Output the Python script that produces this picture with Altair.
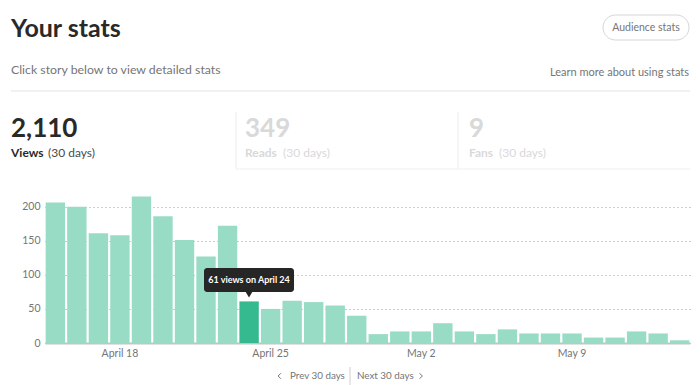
import altair as alt
import pandas as pd

# ---- data ----
days = ["April 15", "April 16", "April 17", "April 18", "April 19", "April 20",
        "April 21", "April 22", "April 23", "April 24", "April 25", "April 26",
        "April 27", "April 28", "April 29", "April 30", "May 1", "May 2",
        "May 3", "May 4", "May 5", "May 6", "May 7", "May 8", "May 9",
        "May 10", "May 11", "May 12", "May 13", "May 14"]
views = [206, 200, 161, 158, 215, 186, 151, 127, 172, 61,
         50, 62, 60, 55, 40, 13, 17, 17, 29, 17,
         13, 20, 14, 14, 14, 8, 8, 17, 14, 4]
tick_days = ["April 18", "April 25", "May 2", "May 9"]
y_ticks = [0, 50, 100, 150, 200]
highlight_day = "April 24"

df = pd.DataFrame({"day": days, "views": views})

FONT = "Lato"
OX, OY = 45, 193  # page position of plot origin


def px(x):
    return x - OX


def py(y):
    return y - OY


one = alt.Data(values=[{"a": 1}])


def text(t, x, y, size=12, color="#292929", weight="normal", align="left",
         baseline="alphabetic", font=FONT):
    return alt.Chart(one).mark_text(
        text=t, fontSize=size, color=color, fontWeight=weight, align=align,
        baseline=baseline, font=font
    ).encode(x=alt.value(px(x)), y=alt.value(py(y)))


def hline(x1, x2, y, color="#e6e6e6", w=1):
    return alt.Chart(one).mark_rule(color=color, strokeWidth=w).encode(
        x=alt.value(px(x1)), x2=alt.value(px(x2)), y=alt.value(py(y)))


def vline(x, y1, y2, color="#ececec", w=1):
    return alt.Chart(one).mark_rule(color=color, strokeWidth=w).encode(
        x=alt.value(px(x)), y=alt.value(py(y1)), y2=alt.value(py(y2)))


bars = alt.Chart(df).mark_bar().encode(
    x=alt.X("day:O", sort=days, title=None,
            scale=alt.Scale(paddingInner=0.1, paddingOuter=0.03),
            axis=alt.Axis(values=tick_days, labelAngle=0, ticks=False,
                          domain=True, domainColor="#c4c4c4", domainWidth=2,
                          labelColor="#757575", labelFontSize=10.5,
                          labelFont=FONT, labelPadding=5, grid=False)),
    y=alt.Y("views:Q", title=None,
            scale=alt.Scale(domain=[0, 220], nice=False),
            axis=alt.Axis(values=y_ticks, ticks=False, domain=False,
                          labelColor="#757575", labelFontSize=10.5,
                          labelFont=FONT, labelPadding=5,
                          grid=True, gridDash=[1, 3], gridColor="#9a9a9a",
                          gridWidth=1)),
    color=alt.condition(alt.datum.day == highlight_day,
                        alt.value("#35b98e"), alt.value("#98dcc6")),
)

# tooltip
tip_box = alt.Chart(one).mark_rect(color="#262626", cornerRadius=3).encode(
    x=alt.value(px(204)), x2=alt.value(px(294)),
    y=alt.value(py(268)), y2=alt.value(py(292)))
tip_arrow = alt.Chart(one).mark_point(
    shape="triangle-down", filled=True, color="#262626", opacity=1, size=70
).encode(x=alt.value(px(249)), y=alt.value(py(294)))
tip_text = text("61 views on April 24", 249, 280, size=9, color="#ffffff",
                weight="bold", align="center", baseline="middle")

# button
button = alt.Chart(one).mark_rect(
    fill="#ffffff", stroke="#d6d6d6", strokeWidth=1, cornerRadius=12.5
).encode(x=alt.value(px(603)), x2=alt.value(px(689)),
         y=alt.value(py(15)), y2=alt.value(py(40)))

chev_left = alt.Chart(one).mark_point(
    shape="M 0.5 -1 L -0.5 0 L 0.5 1", filled=False, color="#757575",
    strokeWidth=1, size=30, opacity=1
).encode(x=alt.value(px(279.5)), y=alt.value(py(376)))
chev_right = alt.Chart(one).mark_point(
    shape="M -0.5 -1 L 0.5 0 L -0.5 1", filled=False, color="#757575",
    strokeWidth=1, size=30, opacity=1
).encode(x=alt.value(px(421)), y=alt.value(py(376)))

LIGHT = "#d9d9d9"
layers = [
    bars,
    text("Your stats", 11, 37, size=25, weight="bold"),
    text("Click story below to view detailed stats", 11, 74, size=12.3,
         color="#757575"),
    text("Learn more about using stats", 689, 76, size=11, color="#757575",
         align="right"),
    button,
    text("Audience stats", 646, 28, size=10.5, color="#757575",
         align="center", baseline="middle"),
    hline(11, 690, 91, color="#e3e3e3"),
    text("2,110", 11, 137, size=26, weight="bold"),
    text("Views", 11, 157, size=12, weight="bold"),
    text("(30 days)", 48, 157, size=12, color="#4a4a4a"),
    vline(236, 112, 169),
    vline(458, 112, 169),
    hline(236, 690, 169, color="#efefef"),
    text("349", 245, 137, size=26, weight="bold", color=LIGHT),
    text("Reads", 245, 157, size=12, weight="bold", color=LIGHT),
    text("(30 days)", 283, 157, size=12, color=LIGHT),
    text("9", 469, 137, size=26, weight="bold", color=LIGHT),
    text("Fans", 469, 157, size=12, weight="bold", color=LIGHT),
    text("(30 days)", 499, 157, size=12, color=LIGHT),
    tip_box, tip_arrow, tip_text,
    chev_left,
    text("Prev 30 days", 290, 376, size=9.8, color="#757575",
         baseline="middle"),
    vline(350, 367, 385, color="#cfcfcf"),
    text("Next 30 days", 357, 376, size=9.8, color="#757575",
         baseline="middle"),
    chev_right,
]

chart = alt.layer(*layers).properties(
    width=645, height=150,
    padding={"left": 37, "top": 185, "right": 2, "bottom": 42},
    autosize=alt.AutoSizeParams(type="none"),
    background="#ffffff",
).configure_view(strokeWidth=0, stroke=None)

chart.save("out.html", embed_options={"renderer": "svg", "actions": False})
